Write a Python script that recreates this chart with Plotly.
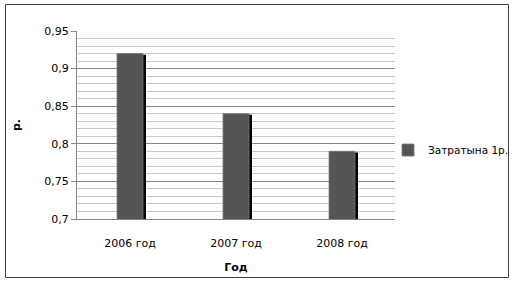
import plotly.graph_objects as go

categories = ["2006 год", "2007 год", "2008 год"]
values = [0.92, 0.84, 0.79]
series_name = "Затратына 1р."
y_ticks = [0.7, 0.75, 0.8, 0.85, 0.9, 0.95]

W, H = 520, 284
L, R, T, B = 77, 125, 31, 65
pw = W - L - R
ph = H - T - B

bar_w = 0.245
shadow_dx = 3 / pw * 3  # ~3px in category units (3 categories across plot width)
shadow_dy = 0.0015

font = dict(family="DejaVu Sans", size=11, color="#000000")

fig = go.Figure()
fig.add_trace(go.Bar(
    x=categories, y=[v - shadow_dy for v in values], base=0,
    width=bar_w, offset=-bar_w / 2 + shadow_dx,
    marker=dict(color="#000000", line=dict(width=0)),
    showlegend=False, hoverinfo="skip",
))
fig.add_trace(go.Bar(
    x=categories, y=values, base=0, name=series_name,
    width=bar_w, offset=-bar_w / 2,
    marker=dict(color="#555555", line=dict(color="#777777", width=0.8)),
))

def px_to_paper_x(px):
    return (px - L) / pw

def px_to_paper_y(py):
    return (H - B - py) / ph

fig.update_layout(
    width=W, height=H,
    margin=dict(l=L, r=R, t=T, b=B, autoexpand=False),
    paper_bgcolor="white", plot_bgcolor="white",
    barmode="overlay",
    separators=", ",
    font=font,
    showlegend=True,
    legend=dict(
        x=px_to_paper_x(388), y=px_to_paper_y(150), xanchor="left", yanchor="middle",
        font=dict(family="DejaVu Sans", size=10.5, color="#000000"),
        bgcolor="rgba(0,0,0,0)", itemwidth=30, borderwidth=0,
    ),
    xaxis=dict(
        showgrid=False, showline=True, linecolor="#868686", linewidth=1,
        ticks="", ticklabelstandoff=14,
        tickfont=font,
        title=dict(text="<b>Год</b>", font=font, standoff=14),
        automargin=False,
    ),
    yaxis=dict(
        range=[0.7, 0.95], tickvals=y_ticks,
        showline=True, linecolor="#868686", linewidth=1,
        ticks="outside", ticklen=5, tickcolor="#868686",
        showgrid=True, gridcolor="#868686", gridwidth=1,
        minor=dict(dtick=0.01, tick0=0.7, showgrid=True, gridcolor="#c8c8c8", gridwidth=1, ticks=""),
        tickfont=font,
        title=dict(text="<b>р.</b>", font=font, standoff=21),
        automargin=False, zeroline=False,
    ),
    shapes=[dict(
        type="rect", xref="paper", yref="paper",
        x0=px_to_paper_x(5.5), x1=px_to_paper_x(508.5),
        y0=px_to_paper_y(277.5), y1=px_to_paper_y(4.5),
        line=dict(color="#404040", width=1), fillcolor="rgba(0,0,0,0)", layer="below",
    )],
)

fig.write_html("out.html")
